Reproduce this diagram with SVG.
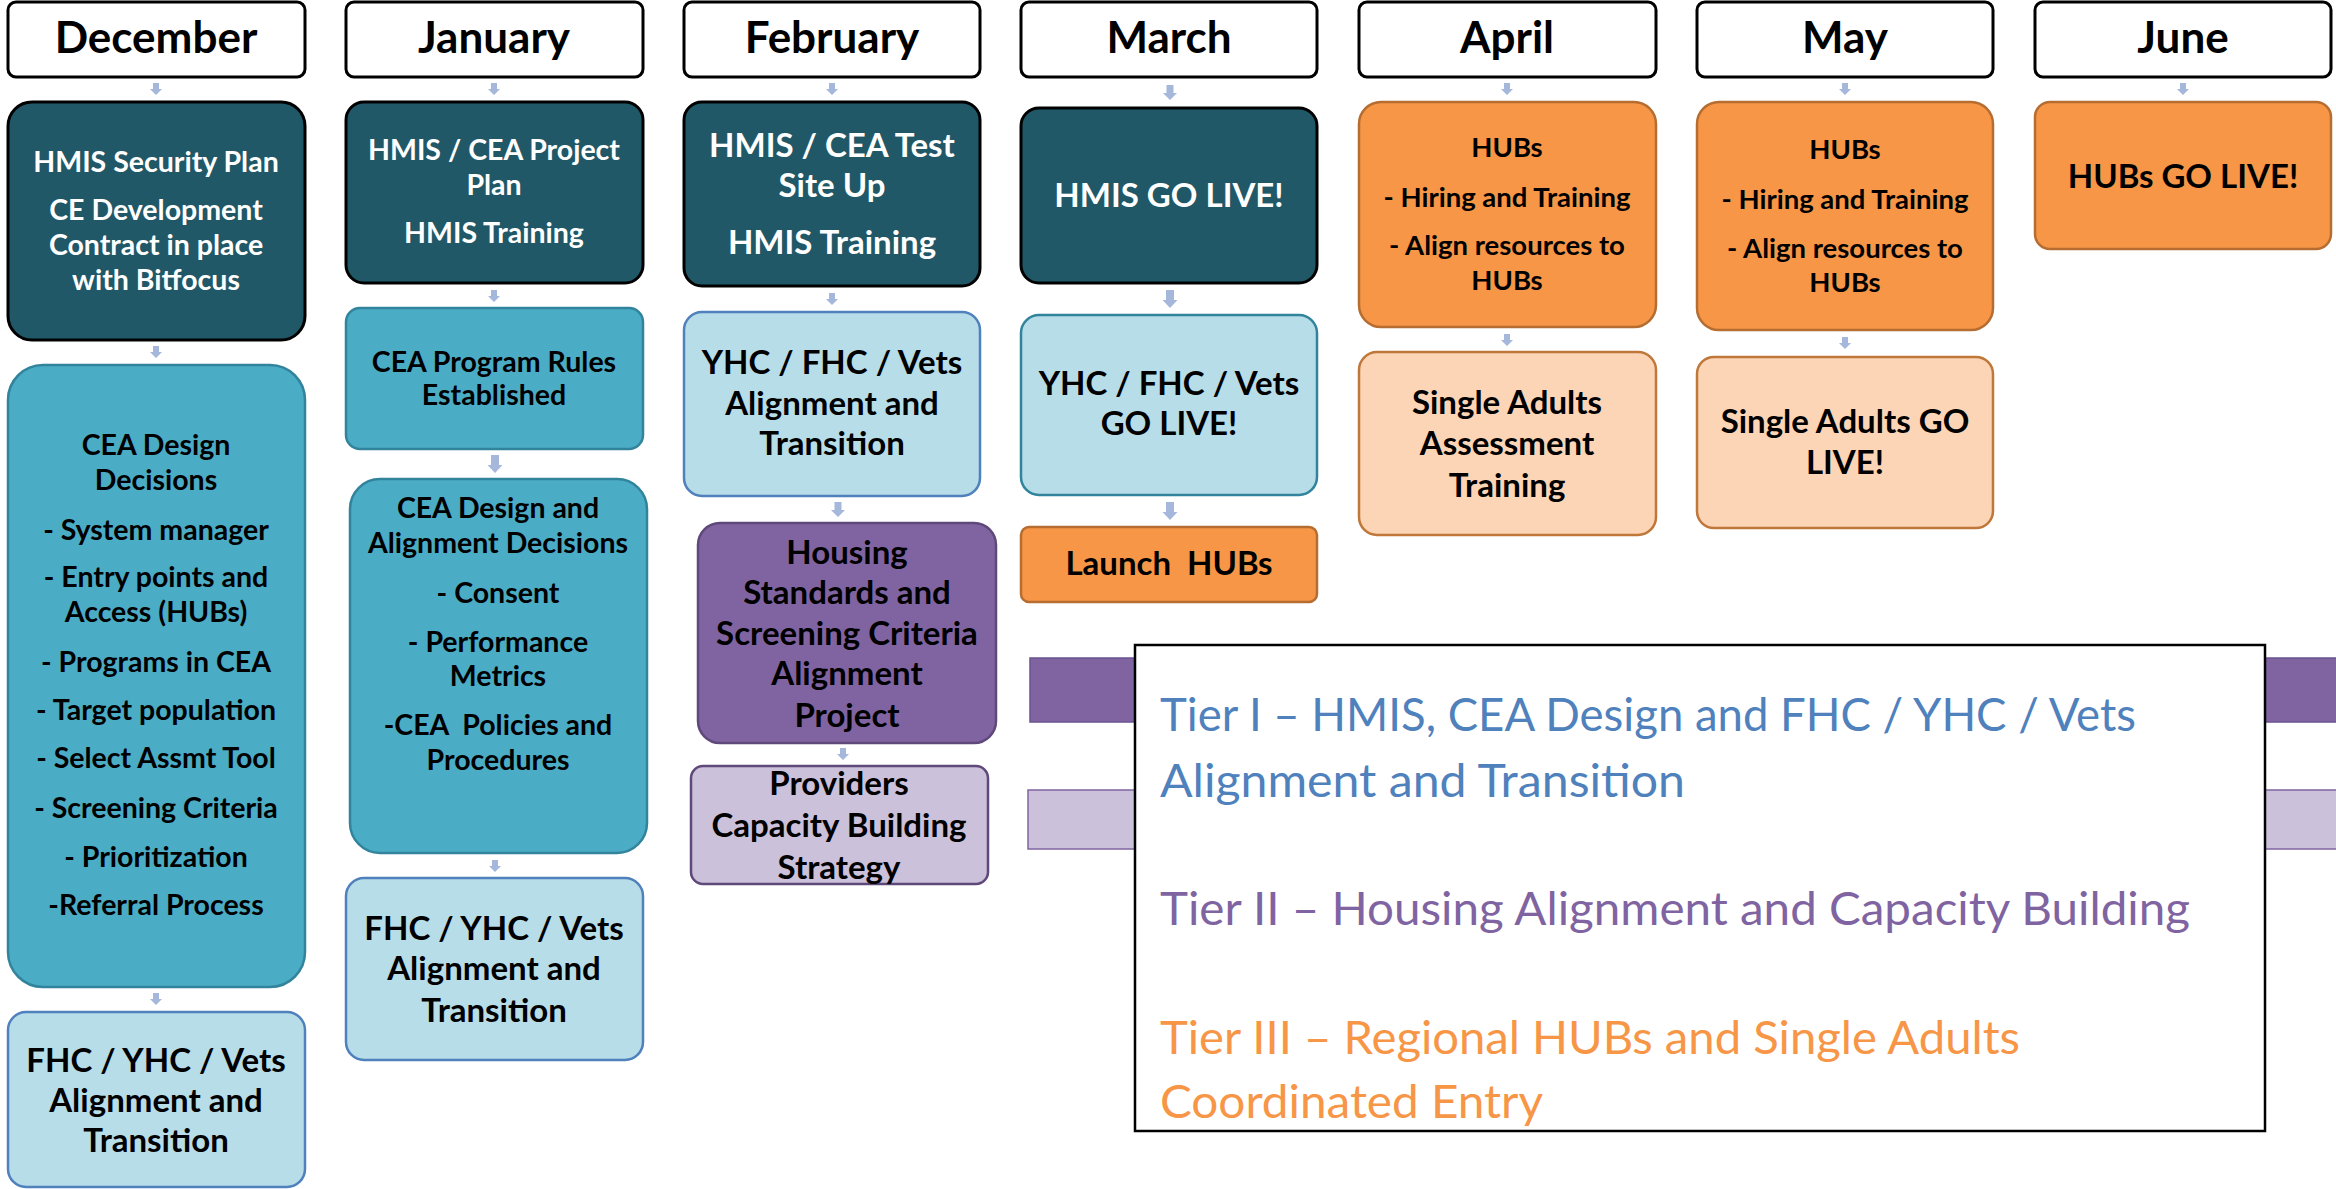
<svg xmlns="http://www.w3.org/2000/svg" width="2336" height="1189" viewBox="0 0 2336 1189">
<style>
text{font-family:Lato,"Open Sans","Liberation Sans",sans-serif;font-weight:bold;text-anchor:middle;}
.hdr rect{fill:#fff;stroke:#000;stroke-width:3}
.hdr text{font-size:44px;fill:#000}
.dk rect{fill:#215868;stroke:#000;stroke-width:3}
.dk text{fill:#fff}
.md rect{fill:#4bacc6;stroke:#31849b;stroke-width:2.5}
.lt rect{fill:#b7dde8;stroke:#4f81bd;stroke-width:2.5}
.lt2 rect{fill:#b7dde8;stroke:#31849b;stroke-width:2.5}
.pu rect{fill:#8064a2;stroke:#5f497a;stroke-width:2.5}
.lp rect{fill:#ccc1da;stroke:#5f497a;stroke-width:2.5}
.or rect{fill:#f79646;stroke:#b66d31;stroke-width:2.5}
.lo rect{fill:#fbd5b5;stroke:#c0773a;stroke-width:2.5}
.s27{font-size:27.5px}.s28{font-size:28.5px}.s33{font-size:33px}
.tier{font-weight:normal;text-anchor:start;font-size:46px}
.ah{fill:#a6b7dc}
</style>
<defs>
<polygon id="a12" class="ah" points="-3,0 3,0 3,6 6,6 0,12 -6,6 -3,6"/>
<polygon id="a15" class="ah" points="-3.5,0 3.5,0 3.5,8 7,8 0,15 -7,8 -3.5,8"/>
<polygon id="a18" class="ah" points="-4,0 4,0 4,10 7.5,10 0,18 -7.5,10 -4,10"/>
</defs>

<g id="bands">
<rect x="1030" y="658" width="1310" height="64" fill="#8064a2" stroke="#6a5290" stroke-width="1.5"/>
<rect x="1028" y="790" width="1312" height="59" fill="#ccc1da" stroke="#8064a2" stroke-width="1.5"/>
</g>

<g id="connectors">
<use href="#a12" x="156" y="83"/><use href="#a12" x="156" y="346"/><use href="#a12" x="156" y="993"/>
<use href="#a12" x="494" y="83"/><use href="#a12" x="494" y="290"/><use href="#a18" x="495" y="455"/><use href="#a12" x="495" y="860"/>
<use href="#a12" x="832" y="83"/><use href="#a12" x="832" y="293"/><use href="#a15" x="838" y="502"/><use href="#a12" x="843" y="748"/>
<use href="#a15" x="1170" y="85"/><use href="#a18" x="1170" y="290"/><use href="#a18" x="1170" y="502"/>
<use href="#a12" x="1507" y="83"/><use href="#a12" x="1507" y="334"/>
<use href="#a12" x="1845" y="83"/><use href="#a12" x="1845" y="337"/>
<use href="#a12" x="2183" y="83"/>
</g>

<g id="h-dec" class="hdr"><rect x="8" y="2" width="297" height="75" rx="8"/><text x="156" y="53">December</text></g>
<g id="h-jan" class="hdr"><rect x="346" y="2" width="297" height="75" rx="8"/><text x="494" y="53">January</text></g>
<g id="h-feb" class="hdr"><rect x="684" y="2" width="296" height="75" rx="8"/><text x="832" y="53">February</text></g>
<g id="h-mar" class="hdr"><rect x="1021" y="2" width="296" height="75" rx="8"/><text x="1169" y="53">March</text></g>
<g id="h-apr" class="hdr"><rect x="1359" y="2" width="297" height="75" rx="8"/><text x="1507" y="53">April</text></g>
<g id="h-may" class="hdr"><rect x="1697" y="2" width="296" height="75" rx="8"/><text x="1845" y="53">May</text></g>
<g id="h-jun" class="hdr"><rect x="2035" y="2" width="296" height="75" rx="8"/><text x="2183" y="53">June</text></g>

<g id="dec1" class="dk"><rect x="8" y="102" width="297" height="238" rx="24"/>
<text class="s28" x="156"><tspan x="156" y="172">HMIS Security Plan</tspan><tspan x="156" y="220">CE Development</tspan><tspan x="156" y="255">Contract in place</tspan><tspan x="156" y="290">with Bitfocus</tspan></text></g>
<g id="dec2" class="md"><rect x="8" y="365" width="297" height="622" rx="35"/>
<text class="s28" x="156"><tspan x="156" y="455">CEA Design</tspan><tspan x="156" y="490">Decisions</tspan><tspan x="156" y="540">- System manager</tspan><tspan x="156" y="587">- Entry points and</tspan><tspan x="156" y="622">Access (HUBs)</tspan><tspan x="156" y="672">- Programs in CEA</tspan><tspan x="156" y="720">- Target population</tspan><tspan x="156" y="768">- Select Assmt Tool</tspan><tspan x="156" y="818">- Screening Criteria</tspan><tspan x="156" y="867">- Prioritization</tspan><tspan x="156" y="915">-Referral Process</tspan></text></g>
<g id="dec3" class="lt"><rect x="8" y="1012" width="297" height="175" rx="18"/>
<text class="s33" x="156"><tspan x="156" y="1072">FHC / YHC / Vets</tspan><tspan x="156" y="1112">Alignment and</tspan><tspan x="156" y="1152">Transition</tspan></text></g>

<g id="jan1" class="dk"><rect x="346" y="102" width="297" height="181" rx="18"/>
<text class="s28" x="494"><tspan x="494" y="160">HMIS / CEA Project</tspan><tspan x="494" y="195">Plan</tspan><tspan x="494" y="243">HMIS Training</tspan></text></g>
<g id="jan2" class="md"><rect x="346" y="308" width="297" height="141" rx="14"/>
<text class="s28" x="494"><tspan x="494" y="372">CEA Program Rules</tspan><tspan x="494" y="405">Established</tspan></text></g>
<g id="jan3" class="md"><rect x="350" y="479" width="297" height="374" rx="30"/>
<text class="s28" x="498"><tspan x="498" y="518">CEA Design and</tspan><tspan x="498" y="553">Alignment Decisions</tspan><tspan x="498" y="603">- Consent</tspan><tspan x="498" y="652">- Performance</tspan><tspan x="498" y="686">Metrics</tspan><tspan x="498" y="735" xml:space="preserve">-CEA  Policies and</tspan><tspan x="498" y="770">Procedures</tspan></text></g>
<g id="jan4" class="lt"><rect x="346" y="878" width="297" height="182" rx="18"/>
<text class="s33" x="494"><tspan x="494" y="940">FHC / YHC / Vets</tspan><tspan x="494" y="980">Alignment and</tspan><tspan x="494" y="1022">Transition</tspan></text></g>

<g id="feb1" class="dk"><rect x="684" y="102" width="296" height="184" rx="18"/>
<text class="s33" x="832"><tspan x="832" y="157">HMIS / CEA Test</tspan><tspan x="832" y="197">Site Up</tspan><tspan x="832" y="254">HMIS Training</tspan></text></g>
<g id="feb2" class="lt"><rect x="684" y="312" width="296" height="184" rx="18"/>
<text class="s33" x="832"><tspan x="832" y="374">YHC / FHC / Vets</tspan><tspan x="832" y="415">Alignment and</tspan><tspan x="832" y="455">Transition</tspan></text></g>
<g id="feb3" class="pu"><rect x="698" y="523" width="298" height="220" rx="22"/>
<text class="s33" x="847"><tspan x="847" y="564">Housing</tspan><tspan x="847" y="604">Standards and</tspan><tspan x="847" y="645">Screening Criteria</tspan><tspan x="847" y="685">Alignment</tspan><tspan x="847" y="727">Project</tspan></text></g>
<g id="feb4" class="lp"><rect x="691" y="766" width="297" height="118" rx="12"/>
<text class="s33" x="839"><tspan x="839" y="795">Providers</tspan><tspan x="839" y="837">Capacity Building</tspan><tspan x="839" y="879">Strategy</tspan></text></g>

<g id="mar1" class="dk"><rect x="1021" y="108" width="296" height="175" rx="18"/>
<text class="s33" x="1169" y="207">HMIS GO LIVE!</text></g>
<g id="mar2" class="lt2"><rect x="1021" y="315" width="296" height="180" rx="18"/>
<text class="s33" x="1169"><tspan x="1169" y="395">YHC / FHC / Vets</tspan><tspan x="1169" y="435">GO LIVE!</tspan></text></g>
<g id="mar3" class="or"><rect x="1021" y="527" width="296" height="75" rx="8"/>
<text class="s33" x="1169" y="575" xml:space="preserve">Launch  HUBs</text></g>

<g id="apr1" class="or"><rect x="1359" y="102" width="297" height="225" rx="22"/>
<text class="s27" x="1507"><tspan x="1507" y="157">HUBs</tspan><tspan x="1507" y="207">- Hiring and Training</tspan><tspan x="1507" y="255">- Align resources to</tspan><tspan x="1507" y="290">HUBs</tspan></text></g>
<g id="apr2" class="lo"><rect x="1359" y="352" width="297" height="183" rx="18"/>
<text class="s33" x="1507"><tspan x="1507" y="414">Single Adults</tspan><tspan x="1507" y="455">Assessment</tspan><tspan x="1507" y="497">Training</tspan></text></g>

<g id="may1" class="or"><rect x="1697" y="102" width="296" height="228" rx="22"/>
<text class="s27" x="1845"><tspan x="1845" y="159">HUBs</tspan><tspan x="1845" y="209">- Hiring and Training</tspan><tspan x="1845" y="258">- Align resources to</tspan><tspan x="1845" y="292">HUBs</tspan></text></g>
<g id="may2" class="lo"><rect x="1697" y="357" width="296" height="171" rx="17"/>
<text class="s33" x="1845"><tspan x="1845" y="433">Single Adults GO</tspan><tspan x="1845" y="474">LIVE!</tspan></text></g>

<g id="jun1" class="or"><rect x="2035" y="102" width="296" height="147" rx="15"/>
<text class="s33" x="2183" y="188">HUBs GO LIVE!</text></g>

<g id="legend">
<rect x="1135" y="645" width="1130" height="486" fill="#fff" stroke="#000" stroke-width="2.5"/>
<text class="tier" fill="#4f81bd" x="1160" y="731" textLength="976" lengthAdjust="spacingAndGlyphs">Tier I – HMIS, CEA Design and FHC / YHC / Vets</text>
<text class="tier" fill="#4f81bd" x="1160" y="797" textLength="525" lengthAdjust="spacingAndGlyphs">Alignment and Transition</text>
<text class="tier" fill="#8064a2" x="1160" y="925" textLength="1030" lengthAdjust="spacingAndGlyphs">Tier II – Housing Alignment and Capacity Building</text>
<text class="tier" fill="#f79646" x="1160" y="1054" textLength="860" lengthAdjust="spacingAndGlyphs">Tier III – Regional HUBs and Single Adults</text>
<text class="tier" fill="#f79646" x="1160" y="1118" textLength="383" lengthAdjust="spacingAndGlyphs">Coordinated Entry</text>
</g>
</svg>
